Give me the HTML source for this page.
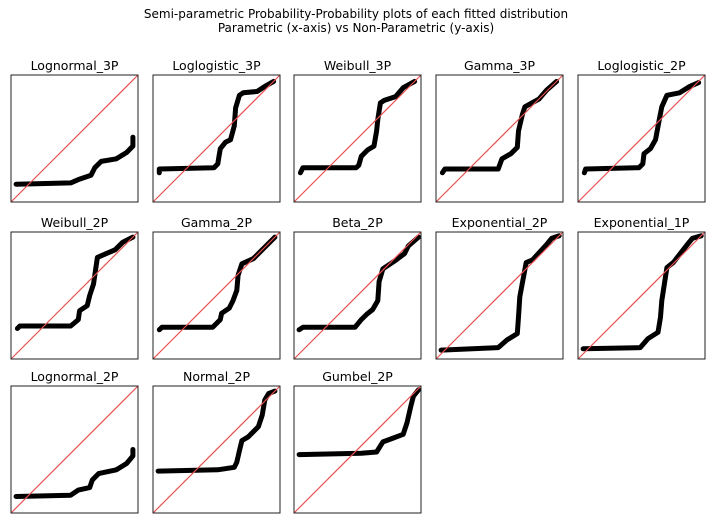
<!DOCTYPE html>
<html><head><meta charset="utf-8">
<style>
body{margin:0;background:#fff;width:712px;height:525px;overflow:hidden;font-family:"DejaVu Sans","Liberation Sans",sans-serif;}
svg{display:block}
</style></head>
<body>
<svg id="chart" width="712" height="525" xmlns="http://www.w3.org/2000/svg" font-family="DejaVu Sans, Liberation Sans, sans-serif">
<text x="356" y="18" text-anchor="middle" font-size="12" fill="#000">Semi-parametric Probability-Probability plots of each fitted distribution</text>
<text x="356" y="32" text-anchor="middle" font-size="12" fill="#000">Parametric (x-axis) vs Non-Parametric (y-axis)</text>
</svg>
<script>
const names = ["Lognormal_3P","Loglogistic_3P","Weibull_3P","Gamma_3P","Loglogistic_2P","Weibull_2P","Gamma_2P","Beta_2P","Exponential_2P","Exponential_1P","Lognormal_2P","Normal_2P","Gumbel_2P"];
const lognormal3P = [[0.04,0.14],[0.47,0.15],[0.54,0.18],[0.63,0.21],[0.66,0.27],[0.71,0.32],[0.83,0.34],[0.91,0.39],[0.96,0.44],[0.96,0.51]];
const loglogistic3P = [[0.05,0.23],[0.05,0.26],[0.48,0.27],[0.51,0.3],[0.52,0.36],[0.53,0.42],[0.57,0.47],[0.61,0.49],[0.64,0.6],[0.65,0.74],[0.68,0.84],[0.71,0.86],[0.82,0.87],[0.88,0.91],[0.95,0.95]];
const weibull3P = [[0.05,0.23],[0.07,0.27],[0.49,0.27],[0.51,0.29],[0.53,0.36],[0.58,0.41],[0.63,0.44],[0.65,0.56],[0.66,0.65],[0.68,0.78],[0.71,0.8],[0.8,0.83],[0.86,0.9],[0.95,0.95]];
const gamma3P = [[0.05,0.23],[0.07,0.26],[0.49,0.26],[0.52,0.34],[0.59,0.38],[0.64,0.43],[0.65,0.56],[0.68,0.69],[0.7,0.75],[0.81,0.81],[0.87,0.88],[0.95,0.95]];
const loglogistic2P = [[0.05,0.23],[0.06,0.26],[0.48,0.27],[0.51,0.3],[0.52,0.38],[0.57,0.42],[0.61,0.49],[0.64,0.65],[0.66,0.75],[0.7,0.84],[0.8,0.86],[0.88,0.91],[0.95,0.94]];
const weibull2P = [[0.05,0.24],[0.07,0.26],[0.47,0.26],[0.53,0.31],[0.54,0.38],[0.6,0.42],[0.62,0.5],[0.65,0.59],[0.66,0.66],[0.68,0.8],[0.75,0.83],[0.82,0.86],[0.88,0.92],[0.96,0.96]];
const gamma2P = [[0.05,0.23],[0.07,0.25],[0.47,0.25],[0.53,0.31],[0.54,0.36],[0.6,0.4],[0.63,0.46],[0.66,0.54],[0.67,0.66],[0.7,0.75],[0.79,0.79],[0.87,0.87],[0.96,0.96]];
const beta2P = [[0.04,0.23],[0.07,0.25],[0.48,0.25],[0.53,0.31],[0.57,0.35],[0.62,0.39],[0.66,0.46],[0.67,0.61],[0.7,0.71],[0.79,0.77],[0.87,0.83],[0.9,0.89],[0.98,0.96]];
const exponential2P = [[0.04,0.07],[0.49,0.09],[0.56,0.15],[0.64,0.2],[0.65,0.33],[0.66,0.49],[0.69,0.65],[0.71,0.76],[0.76,0.78],[0.87,0.9],[0.91,0.95],[0.97,0.97]];
const exponential1P = [[0.04,0.08],[0.49,0.09],[0.55,0.16],[0.63,0.21],[0.65,0.33],[0.66,0.46],[0.7,0.72],[0.75,0.76],[0.86,0.9],[0.9,0.95],[0.97,0.97]];
const lognormal2P = [[0.04,0.13],[0.47,0.14],[0.53,0.18],[0.62,0.2],[0.64,0.26],[0.69,0.31],[0.83,0.34],[0.91,0.39],[0.96,0.45],[0.96,0.5]];
const normal2P = [[0.04,0.33],[0.51,0.34],[0.64,0.36],[0.66,0.4],[0.68,0.49],[0.7,0.57],[0.75,0.6],[0.83,0.68],[0.86,0.77],[0.88,0.89],[0.91,0.94],[0.96,0.96]];
const gumbel2P = [[0.04,0.46],[0.53,0.47],[0.65,0.48],[0.7,0.56],[0.78,0.59],[0.86,0.62],[0.89,0.71],[0.92,0.84],[0.94,0.92],[0.98,0.97]];
const series = [lognormal3P,loglogistic3P,weibull3P,gamma3P,loglogistic2P,weibull2P,gamma2P,beta2P,exponential2P,exponential1P,lognormal2P,normal2P,gumbel2P];

const NS="http://www.w3.org/2000/svg";
const svg=document.getElementById('chart');
const colX=[11,153,294,436,578], rowY=[75,232,386], W=127, H=127;
function mk(t,a){const e=document.createElementNS(NS,t);for(const k in a)e.setAttribute(k,a[k]);return e;}
names.forEach((nm,i)=>{
  const L=colX[i%5], T=rowY[Math.floor(i/5)];
  const sx=v=>L+v*W, sy=v=>T+H-v*H;
  const g=mk('g',{});
  
  
  const title=mk('text',{x:L+W/2,y:T-5,'text-anchor':'middle','font-size':'12.5',fill:'#000'});
  
  
  title.textContent=nm;
  g.appendChild(title);
  const pts=series[i].map(p=>sx(p[0]).toFixed(1)+','+sy(p[1]).toFixed(1)).join(' ');
  const line=mk('polyline',{points:pts,fill:'none',stroke:'#000','stroke-width':'5','stroke-linecap':'round','stroke-linejoin':'round'});
  
  
  g.appendChild(line);
  const diag=mk('line',{x1:sx(0),y1:sy(0),x2:sx(1),y2:sy(1),stroke:'#e8504f','stroke-width':'1.2'});
  
  
  g.appendChild(diag);
  const box=mk('rect',{x:L,y:T,width:W,height:H,fill:'none',stroke:'#222','stroke-width':'1'});
  
  
  g.appendChild(box);
  svg.appendChild(g);
});
</script>
</body></html>
